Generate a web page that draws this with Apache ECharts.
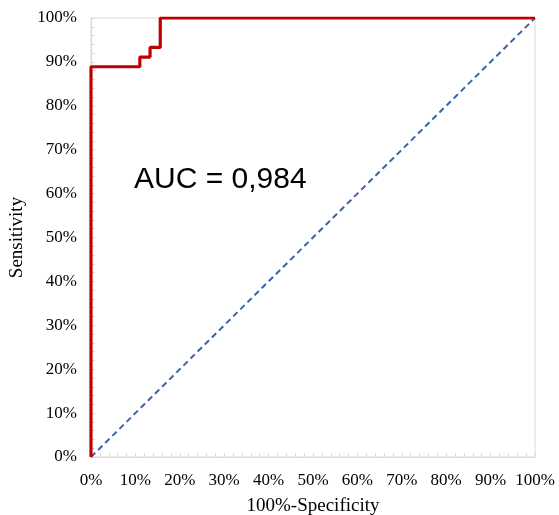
<!DOCTYPE html>
<html>
<head>
<meta charset="utf-8">
<script src="https://cdn.jsdelivr.net/npm/echarts@6/dist/echarts.min.js"></script>
<style>html,body{margin:0;padding:0;background:#fff;}#c{width:559px;height:515px;}</style>
</head>
<body>
<div id="c"></div>
<script>
// ROC curve points (100%-Specificity, Sensitivity), in %
const rocX = [0, 0, 11.0, 11.0, 13.3, 13.3, 15.6, 15.6, 100];
const rocY = [0, 88.9, 88.9, 91.1, 91.1, 93.3, 93.3, 100, 100];
// Reference diagonal
const refX = [0, 100];
const refY = [0, 100];
const tickValues = [0, 10, 20, 30, 40, 50, 60, 70, 80, 90, 100];
const xTitle = '100%-Specificity';
const yTitle = 'Sensitivity';
const aucText = 'AUC = 0,984';

const chart = echarts.init(document.getElementById('c'));
const serif = '"Liberation Serif", "Times New Roman", serif';
const axisCommon = {
  type: 'value', min: 0, max: 100, interval: 10,
  axisLine: { show: true, lineStyle: { color: '#D9D9D9', width: 1 } },
  axisTick: { show: true, inside: true, length: 4, lineStyle: { color: '#D9D9D9' } },
  minorTick: { show: true, splitNumber: 5, length: 4, lineStyle: { color: '#D9D9D9' } },
  splitLine: { show: false },
  axisLabel: { color: '#000', fontFamily: serif, fontSize: 17, formatter: v => v + '%' },
  nameTextStyle: { color: '#000', fontFamily: serif, fontSize: 19 }
};
chart.setOption({
  animation: false,
  backgroundColor: '#fff',
  grid: { left: 91, right: 24, top: 18, bottom: 58, containLabel: false, outerBoundsMode: 'none',
          show: true, borderColor: '#D9D9D9', borderWidth: 1 },
  xAxis: Object.assign({}, axisCommon, {
    name: xTitle, nameLocation: 'middle', nameGap: 40,
    axisLabel: Object.assign({}, axisCommon.axisLabel, { margin: 15 })
  }),
  yAxis: Object.assign({}, axisCommon, {
    name: yTitle, nameLocation: 'middle', nameGap: 59,
    axisLabel: Object.assign({}, axisCommon.axisLabel, { margin: 14 })
  }),
  series: [
    {
      type: 'line', data: refX.map((x, i) => [x, refY[i]]), symbol: 'none',
      lineStyle: { color: '#3B64A6', width: 2, type: [6, 4] }, z: 2
    },
    {
      type: 'line', data: rocX.map((x, i) => [x, rocY[i]]), symbol: 'none',
      lineStyle: { color: '#C00000', width: 3.2 }, z: 3
    }
  ],
  graphic: [{
    type: 'text', left: 134, top: 165,
    style: { text: aucText, fontFamily: '"Liberation Sans", Arial, sans-serif', fontSize: 30, fill: '#000' }
  }]
});
</script>
</body>
</html>
